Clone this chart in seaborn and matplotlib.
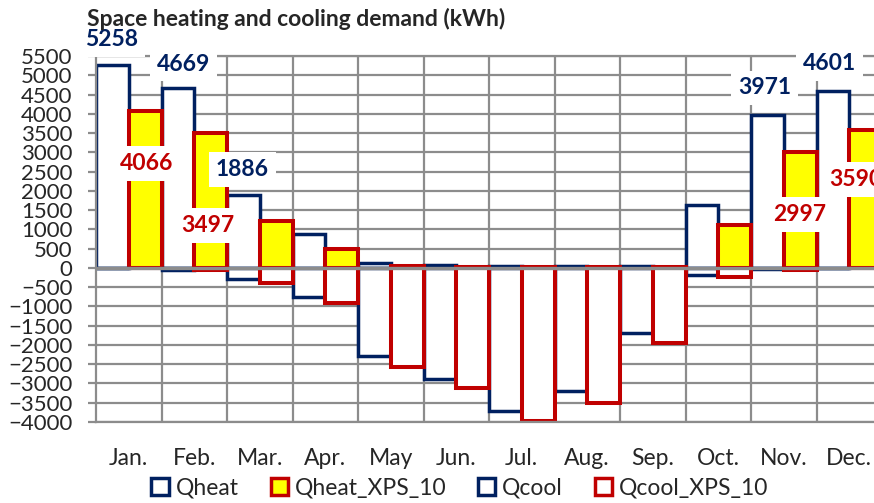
import pandas as pd
import matplotlib
matplotlib.use("Agg")
import matplotlib.pyplot as plt
from matplotlib.patches import Patch
import seaborn as sns

# data (kWh)
months = ["Jan.", "Feb.", "Mar.", "Apr.", "May", "Jun.", "Jul.", "Aug.", "Sep.", "Oct.", "Nov.", "Dec."]
q_heat = [5258, 4669, 1886, 870, 120, 70, 60, 60, 60, 1640, 3971, 4601]
q_heat_xps = [4066, 3497, 1220, 490, 60, 30, 20, 20, 30, 1120, 2997, 3590]
q_cool = [-10, -60, -290, -750, -2285, -2890, -3720, -3200, -1700, -190, -40, 0]
q_cool_xps = [-10, -60, -390, -910, -2570, -3130, -3980, -3500, -1955, -235, -50, -5]

NAVY = "#002060"
RED = "#C00000"
YELLOW = "#FFFF00"
GRID = "#8c8c8c"

sns.set_style("white")
plt.rcParams["font.family"] = ["Lato", "DejaVu Sans"]

heat = pd.DataFrame({"month": months * 2,
                     "value": q_heat + q_heat_xps,
                     "variant": ["base"] * 12 + ["xps"] * 12})
cool = pd.DataFrame({"month": months * 2,
                     "value": q_cool + q_cool_xps,
                     "variant": ["base"] * 12 + ["xps"] * 12})

fig = plt.figure(figsize=(8.74, 5.03), dpi=100)
ax = fig.add_axes([96 / 874, 81 / 503, 786 / 874, 366 / 503])

sns.barplot(data=heat, x="month", y="value", hue="variant", order=months,
            hue_order=["base", "xps"], palette={"base": "white", "xps": YELLOW},
            width=1.0, errorbar=None, legend=False, ax=ax, saturation=1)
sns.barplot(data=cool, x="month", y="value", hue="variant", order=months,
            hue_order=["base", "xps"], palette={"base": "white", "xps": "white"},
            width=1.0, errorbar=None, legend=False, ax=ax, saturation=1)

edge_cols = [NAVY, RED, NAVY, RED]
edge_lw = [2.5, 2.9, 2.5, 2.9]
for cont, ec, lw in zip(ax.containers, edge_cols, edge_lw):
    for bar in cont:
        bar.set_edgecolor(ec)
        bar.set_linewidth(lw)
        bar.set_zorder(2)

ax.set_xlim(-0.5, 11.5)
ax.set_ylim(-4000, 5500)
ax.set_yticks(range(-4000, 5501, 500))
ax.set_xticks(range(12))
ax.set_xticks([i + 0.5 for i in range(12)], minor=True)
ax.set_xlabel("")
ax.set_ylabel("")
ax.set_axisbelow(True)
ax.grid(axis="y", which="major", color=GRID, lw=1.6)
ax.grid(axis="x", which="minor", color=GRID, lw=1.6)
ax.axhline(0, color=GRID, lw=2.4, zorder=2.5)
for sp in ax.spines.values():
    sp.set_color(GRID)
    sp.set_linewidth(1.6)

ax.tick_params(axis="y", length=5.8, width=1.6, color=GRID, labelsize=16, pad=11, left=True)
ax.tick_params(axis="x", which="both", length=0, labelsize=16.5, pad=19)

# data labels: (container, month index, dx px, dy px)
labels = [
    (0, 0, -1, 26), (0, 1, 6, 24), (0, 2, -1, 26), (0, 10, -3, 27), (0, 11, -3, 27),
    (1, 0, 1, -52), (1, 1, -3, -92), (1, 10, 0, -62), (1, 11, -10, -50),
]
for ci, mi, dx, dy in labels:
    bar = ax.containers[ci][mi]
    val = bar.get_height()
    ax.annotate(f"{val:.0f}", xy=(bar.get_x() + bar.get_width() / 2, val),
                xytext=(dx, dy), textcoords="offset pixels", ha="center", va="center",
                fontsize=16.5, fontweight="bold", color=NAVY if ci == 0 else RED,
                bbox=dict(boxstyle="square,pad=0.3", fc="white", ec="none"),
                zorder=5, annotation_clip=False)

fig.text(87 / 874, 1 - 26 / 503, "Space heating and cooling demand (kWh)",
         fontsize=16.5, fontweight="bold", va="baseline", ha="left")

handles = [
    Patch(facecolor="white", edgecolor=NAVY, lw=2.5, label="Qheat"),
    Patch(facecolor=YELLOW, edgecolor=RED, lw=2.5, label="Qheat_XPS_10"),
    Patch(facecolor="white", edgecolor=NAVY, lw=2.5, label="Qcool"),
    Patch(facecolor="white", edgecolor=RED, lw=2.5, label="Qcool_XPS_10"),
]
fig.legend(handles=handles, loc="center", bbox_to_anchor=(460 / 874, 1 - 488 / 503),
           ncol=4, frameon=False, fontsize=16.5, handlelength=0.75, handleheight=0.75,
           handletextpad=0.3, columnspacing=1.4, borderaxespad=0)

fig.savefig("out.png", dpi=100)
